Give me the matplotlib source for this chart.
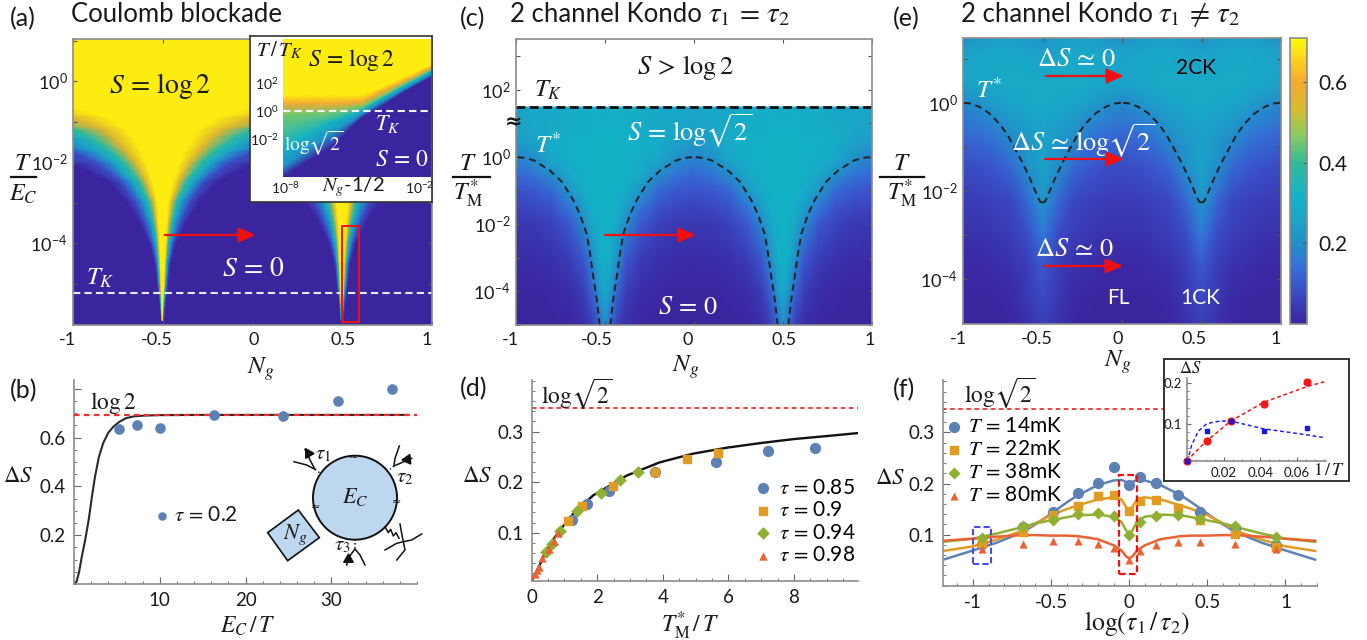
"""Entropy panels: Coulomb blockade and two channel Kondo maps with cuts below."""

import numpy as np
import matplotlib
matplotlib.use("Agg")
import matplotlib.pyplot as plt
from matplotlib.colors import LinearSegmentedColormap
from matplotlib.font_manager import FontProperties
from matplotlib.patches import Circle, Polygon, Rectangle
from matplotlib.ticker import FixedLocator, MultipleLocator
from matplotlib.transforms import ScaledTranslation

plt.rcParams["font.family"] = ["Lato", "DejaVu Sans"]
plt.rcParams["mathtext.fontset"] = "stix"
plt.rcParams["mathtext.rm"] = "Lato"
plt.rcParams["mathtext.it"] = "Lato:italic"
plt.rcParams["mathtext.bf"] = "Lato:bold"

W, H = 1367, 640

CMAP_VALUES = [0, 0.05, 0.1, 0.15, 0.2, 0.26, 0.32, 0.4, 0.47, 0.53, 0.6, 0.65, 0.71]
CMAP_COLORS = ["#3B259F", "#3A3DB8", "#3A58CF", "#3275D8", "#2190C8", "#1AA6C8", "#12B4C6",
               "#30BB9A", "#8CCC60", "#D4BC30", "#F6A830", "#FCCC20", "#FCFC08"]
S_MAX = 0.71

# (a) contours of S, distance from the dip at each temperature
A_LEVELS = [0.69, 0.55, 0.38, 0.25, 0.08, 0.0]
A_LOGT = [-5.9, -5.5, -5, -4.5, -4, -3.5, -3, -2.5, -2.05, -1.75, -1.4, -1.2, -0.9, -0.62, -0.5, 1.1]
A_DIST = [
    [0.002, 0.003, 0.004, 0.005, 0.006, 0.007],
    [0.004, 0.006, 0.008, 0.010, 0.013, 0.016],
    [0.008, 0.012, 0.016, 0.020, 0.026, 0.032],
    [0.012, 0.017, 0.022, 0.028, 0.036, 0.045],
    [0.016, 0.024, 0.032, 0.042, 0.060, 0.075],
    [0.022, 0.034, 0.050, 0.065, 0.100, 0.130],
    [0.030, 0.050, 0.075, 0.100, 0.150, 0.200],
    [0.055, 0.090, 0.130, 0.170, 0.230, 0.300],
    [0.090, 0.145, 0.210, 0.265, 0.360, 0.500],
    [0.120, 0.200, 0.285, 0.360, 0.500, 1.0],
    [0.168, 0.270, 0.400, 0.500, 1.0, 1.5],
    [0.200, 0.330, 0.500, 1.0, 1.5, 2.0],
    [0.300, 0.500, 1.0, 1.5, 2.0, 2.5],
    [0.500, 1.0, 1.5, 2.0, 2.5, 3.0],
    [1.0, 1.5, 2.0, 2.5, 3.0, 3.5],
    [3.0, 3.5, 4.0, 4.5, 5.0, 5.5],
]
A_TK = -5.23

# (a) inset, contours of S against log(Ng - 1/2)
INSET_LOGX = [-8.0, -7.0, -6.0, -4.8, -4.0, -3.0, -2.0]
INSET_LEVELS = [0.69, 0.69, 0.6, 0.45, 0.33, 0.2, 0.0, 0.0]
INSET_LOGT = [
    [5.2, 5.2, 5.2, 5.2, 5.2, 5.2, 5.2],
    [1.15, 1.15, 1.15, 1.15, 1.7, 2.5, 3.3],
    [0.55, 0.55, 0.55, 0.65, 1.4, 2.2, 3.1],
    [-0.3, -0.2, -0.1, 0.3, 1.0, 2.0, 2.9],
    [-2.55, -1.6, -0.75, 0.05, 0.9, 1.85, 2.8],
    [-4.0, -2.8, -1.6, -0.2, 0.65, 1.65, 2.6],
    [-4.7, -3.6, -2.55, -0.45, 0.35, 1.45, 2.4],
    [-4.7, -4.7, -4.7, -4.7, -4.7, -4.7, -4.7],
]

# (c) S table, rows in log T and columns in distance from the dips
C_DIST = [0, 0.03, 0.07, 0.12, 0.2, 0.3, 0.4, 0.5]
C_LOGT = [1.49, 0.9, 0.5, 0, -0.5, -1, -1.5, -2, -3, -4, -5.01]
C_S = [
    [0.28, 0.29, 0.30, 0.29, 0.29, 0.26, 0.27, 0.26],
    [0.30, 0.30, 0.30, 0.29, 0.29, 0.28, 0.26, 0.25],
    [0.31, 0.31, 0.31, 0.30, 0.30, 0.29, 0.25, 0.24],
    [0.31, 0.31, 0.31, 0.31, 0.30, 0.27, 0.21, 0.18],
    [0.31, 0.31, 0.31, 0.31, 0.28, 0.20, 0.15, 0.13],
    [0.31, 0.31, 0.31, 0.29, 0.22, 0.13, 0.10, 0.09],
    [0.31, 0.31, 0.30, 0.24, 0.15, 0.09, 0.07, 0.06],
    [0.31, 0.31, 0.27, 0.19, 0.10, 0.06, 0.04, 0.04],
    [0.30, 0.29, 0.20, 0.10, 0.05, 0.03, 0.02, 0.015],
    [0.27, 0.23, 0.12, 0.05, 0.02, 0.01, 0.005, 0.005],
    [0.20, 0.13, 0.05, 0.02, 0.005, 0, 0, 0],
]
C_TK = 1.49
C_TSTAR_DIST = [0.03, 0.045, 0.066, 0.085, 0.103, 0.14, 0.178, 0.24, 0.31, 0.40, 0.45, 0.5]
C_TSTAR_LOG = [-5.01, -4.3, -3.57, -2.85, -2.29, -1.72, -1.29, -0.75, -0.4, -0.1, -0.025, 0]

# (e) S table
E_DIST = [0, 0.05, 0.1, 0.2, 0.3, 0.4, 0.5]
E_LOGT = [1.48, 1.1, 0.44, 0, -0.7, -1.45, -2.2, -2.97, -3.7, -4.5, -5.03]
E_S = [
    [0.21, 0.22, 0.23, 0.24, 0.24, 0.22, 0.21],
    [0.25, 0.25, 0.26, 0.27, 0.27, 0.26, 0.25],
    [0.28, 0.28, 0.28, 0.28, 0.28, 0.26, 0.25],
    [0.28, 0.28, 0.27, 0.26, 0.24, 0.21, 0.19],
    [0.25, 0.24, 0.23, 0.20, 0.16, 0.14, 0.13],
    [0.25, 0.23, 0.20, 0.13, 0.10, 0.085, 0.08],
    [0.22, 0.18, 0.13, 0.07, 0.06, 0.05, 0.05],
    [0.16, 0.12, 0.08, 0.05, 0.04, 0.03, 0.03],
    [0.10, 0.08, 0.05, 0.03, 0.02, 0.01, 0.01],
    [0.07, 0.055, 0.04, 0.01, 0.005, 0, 0],
    [0.05, 0.04, 0.025, 0.005, 0, 0, 0],
]
E_TSTAR_DIST = [0, 0.015, 0.03, 0.084, 0.125, 0.168, 0.22, 0.273, 0.335, 0.40, 0.45, 0.5]
E_TSTAR_LOG = [-2.27, -2.25, -2.14, -1.68, -1.37, -1.08, -0.73, -0.47, -0.24, -0.09, -0.02, 0]

# (b)
B_X = [5.2, 7.3, 10.0, 16.3, 24.4, 30.8, 37.1]
B_Y = [0.634, 0.652, 0.638, 0.693, 0.689, 0.751, 0.80]
B_CURVE_X = [0.0, 0.3, 0.6, 0.9, 1.3, 1.7, 2.1, 2.45, 2.9, 3.4, 4.0, 4.6, 5.3, 6.1, 7.0, 8.1, 10, 15, 39]
B_CURVE_Y = [0.0, 0.01, 0.05, 0.11, 0.18, 0.26, 0.36, 0.44, 0.52, 0.577, 0.62, 0.645, 0.665, 0.68, 0.687, 0.69, 0.692, 0.693, 0.693]
LOG2 = 0.693

# (d)
D_TAU85_X = [1.22, 1.69, 2.35, 3.76, 5.63, 7.21, 8.63]
D_TAU85_Y = [0.126, 0.157, 0.183, 0.221, 0.240, 0.262, 0.267]
D_TAU90_X = [1.10, 1.54, 2.49, 3.75, 4.75, 5.69]
D_TAU90_Y = [0.124, 0.153, 0.192, 0.221, 0.245, 0.257]
D_TAU94_X = [0.44, 0.61, 0.86, 1.39, 2.10, 2.69, 3.23]
D_TAU94_Y = [0.062, 0.078, 0.103, 0.142, 0.178, 0.205, 0.220]
D_TAU98_X = [0.10, 0.15, 0.23, 0.32, 0.53, 0.68, 0.81]
D_TAU98_Y = [0.018, 0.026, 0.032, 0.049, 0.067, 0.084, 0.099]
D_CURVE_X = [0, 0.2, 0.4, 0.6, 0.86, 1.3, 1.88, 2.9, 3.9, 4.9, 5.94, 6.95, 7.97, 8.98, 9.95]
D_CURVE_Y = [0.005, 0.03, 0.058, 0.081, 0.105, 0.14, 0.174, 0.213, 0.239, 0.256, 0.268, 0.277, 0.285, 0.291, 0.297]
LOG_SQRT2 = 0.3466

# (f)
F_X = [-0.94, -0.68, -0.49, -0.33, -0.2, -0.1, 0, 0.07, 0.17, 0.31, 0.45, 0.68, 0.94]
F_14 = [0.082, 0.114, 0.144, 0.182, 0.201, 0.233, 0.197, 0.212, 0.201, 0.177, 0.144, 0.112, 0.080]
F_22 = [0.084, 0.105, 0.138, 0.156, 0.175, 0.178, 0.146, 0.165, 0.167, 0.153, 0.128, 0.101, 0.076]
F_38 = [0.094, 0.116, 0.128, 0.141, 0.142, 0.136, 0.100, 0.124, 0.137, 0.139, 0.131, 0.116, 0.095]
F_80 = [0.071, 0.081, 0.087, 0.087, 0.081, 0.073, 0.051, 0.067, 0.079, 0.086, 0.086, 0.081, 0.071]
F_CURVE_X = [-1.19, -1.0, -0.85, -0.68, -0.6, -0.5, -0.4, -0.33, -0.2, -0.1, -0.05, -0.02, 0]
F_CURVE_14 = [0.051, 0.069, 0.084, 0.105, 0.120, 0.141, 0.163, 0.177, 0.197, 0.206, 0.207, 0.203, 0.198]
F_CURVE_22 = [0.068, 0.077, 0.090, 0.108, 0.122, 0.138, 0.150, 0.157, 0.169, 0.173, 0.169, 0.154, 0.144]
F_CURVE_38 = [0.086, 0.092, 0.102, 0.115, 0.122, 0.128, 0.134, 0.138, 0.139, 0.135, 0.125, 0.108, 0.099]
F_CURVE_80 = [0.088, 0.092, 0.096, 0.099, 0.099, 0.098, 0.098, 0.097, 0.091, 0.079, 0.069, 0.0575, 0.053]

# (f) inset
FI_X = [0.0, 0.0108, 0.0239, 0.0418, 0.0658]
FI_RED = [0.008, 0.059, 0.107, 0.150, 0.202]
FI_BLUE = [0.010, 0.082, 0.107, 0.083, 0.089]
FI_RED_LINE_X = [0.0, 0.0033, 0.0108, 0.0239, 0.0418, 0.0658, 0.0755]
FI_RED_LINE_Y = [0.008, 0.026, 0.059, 0.107, 0.153, 0.192, 0.204]
FI_BLUE_LINE_X = [0.0, 0.0024, 0.0060, 0.0108, 0.0179, 0.0239, 0.0418, 0.0658, 0.0755]
FI_BLUE_LINE_Y = [0.008, 0.048, 0.082, 0.101, 0.107, 0.107, 0.088, 0.073, 0.066]

DEC_LABELS = {2: "$10^{2}$", 0: "$10^{0}$", -2: r"$10^{\mathrm{-}2}$", -4: r"$10^{\mathrm{-}4}$"}
NG_TICKS = [-1, -0.5, 0, 0.5, 1]
NG_LABELS = ["-1", "-0.5", "0", "0.5", "1"]

BLUE, ORANGE, GREEN, RED = "#5E81B5", "#E19C24", "#8FB032", "#EB6235"
GRAY = "#8C8C8C"
TEXT = "#1a1a1a"
FILL = "#BDD7EE"

cmap = LinearSegmentedColormap.from_list("entropy", [(v / S_MAX, c) for v, c in zip(CMAP_VALUES, CMAP_COLORS)])
DARK = cmap(0.0)

fig = plt.figure(figsize=(W / 100, H / 100), dpi=100)


def px_axes(left, top, right, bottom, **kw):
    return fig.add_axes([left / W, 1 - bottom / H, (right - left) / W, (bottom - top) / H], **kw)


def style_map(ax, ylabels, ylim, label_dx):
    ax.set_xlim(-1, 1)
    ax.set_ylim(*ylim)
    ax.set_xticks(NG_TICKS)
    ax.set_xticklabels(NG_LABELS)
    lo, hi = int(np.ceil(ylim[0])), int(np.floor(ylim[1]))
    ticks = list(range(lo, hi + 1))
    ax.yaxis.set_major_locator(FixedLocator(ticks))
    ax.set_yticklabels([DEC_LABELS.get(t, "") if t in ylabels else "" for t in ticks])
    for lb in ax.get_yticklabels():
        lb.set_math_fontfamily("custom")
    ax.tick_params(direction="in", top=True, right=True, length=3, width=0.8, color="#555555",
                   labelsize=13, labelcolor=TEXT, pad=4)
    ax.tick_params(axis="x", pad=5)
    # the x labels sit a few pixels left of their ticks in the figure
    for lb, dx in zip(ax.get_xticklabels(), label_dx):
        lb.set_transform(lb.get_transform() + ScaledTranslation(dx / 100, 0, fig.dpi_scale_trans))
    for s in ax.spines.values():
        s.set_color(GRAY)
        s.set_linewidth(1.2)


def style_cut(ax, xmajor, xminor, ymajor, yminor, size=13.5):
    ax.xaxis.set_major_locator(MultipleLocator(xmajor))
    ax.xaxis.set_minor_locator(MultipleLocator(xminor))
    ax.yaxis.set_major_locator(MultipleLocator(ymajor))
    ax.yaxis.set_minor_locator(MultipleLocator(yminor))
    ax.tick_params(which="major", direction="in", length=5, width=0.8, color="#666666", labelsize=size,
                   labelcolor=TEXT, pad=6)
    ax.tick_params(which="minor", direction="in", length=2.5, width=0.7, color="#777777")
    for s in ["top", "right"]:
        ax.spines[s].set_visible(False)
    for s in ["left", "bottom"]:
        ax.spines[s].set_color(GRAY)
        ax.spines[s].set_linewidth(1.2)


def ng_knots(dist):
    dist = list(dist)
    left = [-0.5 - d for d in dist[::-1]] + [-0.5 + d for d in dist[1:]]
    right = [0.5 - d for d in dist[:0:-1]] + [0.5 + d for d in dist]
    return np.array(left + right[1:])


def ng_table(table):
    rows = []
    for row in table:
        row = list(row)
        rows.append(row[::-1] + row[1:] + row[-2:0:-1] + row)
    return np.array(rows)


# ---------- (a)
ax_a = px_axes(73, 39, 432, 325)
ax_a.set_facecolor(DARK)
lev = np.array(A_LEVELS)
dist = np.array(A_DIST)
c_row = np.r_[lev[::-1], lev[0], lev[0], lev]
for dip, lo in [(-0.5, -1), (0.5, 0)]:
    xs = np.hstack([dip - dist[:, ::-1], np.full((len(A_LOGT), 2), dip), dip + dist])
    ys = np.tile(np.array(A_LOGT)[:, None], (1, xs.shape[1]))
    mesh = ax_a.pcolormesh(xs, ys, np.tile(c_row, (len(A_LOGT), 1)), shading="gouraud", cmap=cmap,
                           vmin=0, vmax=S_MAX)
    mesh.set_clip_path(Rectangle((lo, -6.02), 1, 7.06, transform=ax_a.transData))
ax_a.axhline(A_TK, color="#E8E8F4", ls=(0, (3.5, 2)), lw=1.5)
style_map(ax_a, [0, -2, -4], (-6.02, 1.04), [-6, -6, 1, 1, -5])

# inset of (a)
box_a = px_axes(250, 36, 432, 202)
box_a.set_xticks([])
box_a.set_yticks([])
for s in box_a.spines.values():
    s.set_color("#333333")
    s.set_linewidth(1.2)
box_a.set_zorder(3)
ins_a = px_axes(283, 39, 431, 177)
ins_a.set_zorder(4)
xs = np.tile(np.array(INSET_LOGX), (len(INSET_LEVELS), 1))
ins_a.pcolormesh(xs, np.array(INSET_LOGT), np.tile(np.array(INSET_LEVELS)[:, None], (1, len(INSET_LOGX))),
                 shading="gouraud", cmap=cmap, vmin=0, vmax=S_MAX)
ins_a.axhline(0, color="#F2F2F2", ls=(0, (3.5, 2)), lw=1.5)
ins_a.set_xlim(-8, -2)
ins_a.set_ylim(-4.69, 5.14)
ins_a.set_xticks([-7.88, -2.45])
ins_a.set_xticklabels([r"$10^{\mathrm{-}8}$", r"$10^{\mathrm{-}2}$"])
ins_a.set_yticks([2, 0, -2])
ins_a.set_yticklabels(["$10^{2}$", "$10^{0}$", r"$10^{\mathrm{-}2}$"])
for lb in ins_a.get_xticklabels() + ins_a.get_yticklabels():
    lb.set_math_fontfamily("custom")
ins_a.tick_params(length=0, labelsize=10, labelcolor=TEXT, pad=3)
ins_a.tick_params(axis="x", pad=2)
for s in ins_a.spines.values():
    s.set_visible(False)

# ---------- (c)
ax_c = px_axes(516, 39, 872, 325)
ax_c.pcolormesh(ng_knots(C_DIST), C_LOGT, ng_table(C_S), shading="gouraud", cmap=cmap, vmin=0, vmax=S_MAX)
ax_c.plot([-1, 1], [C_TK, C_TK], color="#111111", ls=(0, (3.2, 1.6)), lw=2)
for sign, dip in [(-1, -0.5), (1, -0.5), (-1, 0.5), (1, 0.5)]:
    ax_c.plot(dip + sign * np.array(C_TSTAR_DIST), C_TSTAR_LOG, color="#222222", ls=(0, (3.5, 2.4)), lw=1.4)
style_map(ax_c, [2, 0, -2, -4], (-5.01, 3.52), [-6, -8, -6, 1, -2])

# ---------- (e)
ax_e = px_axes(963, 38, 1281, 324)
ax_e.pcolormesh(ng_knots(E_DIST), E_LOGT, ng_table(E_S), shading="gouraud", cmap=cmap, vmin=0, vmax=S_MAX)
for sign, dip in [(-1, -0.5), (1, -0.5), (-1, 0.5), (1, 0.5)]:
    ax_e.plot(dip + sign * np.array(E_TSTAR_DIST), E_TSTAR_LOG, color="#222222", ls=(0, (3.5, 2.4)), lw=1.4)
style_map(ax_e, [0, -2, -4], (-5.03, 1.47), [-5, -6, -4, -7, -5])

cax = px_axes(1290, 38, 1307, 324)
sm = plt.cm.ScalarMappable(cmap=cmap, norm=plt.Normalize(0, S_MAX))
cb = fig.colorbar(sm, cax=cax, ticks=[0.2, 0.4, 0.6])
cb.ax.set_yticklabels(["0.2", "0.4", "0.6"])
cb.ax.tick_params(direction="in", length=3, width=0.8, color="#555555", labelsize=15, labelcolor=TEXT, pad=8)
cb.outline.set_edgecolor(GRAY)
cb.outline.set_linewidth(1.2)

# ---------- (b)
ax_b = px_axes(74, 380, 417, 584)
ax_b.axhline(LOG2, color="#F03030", ls=(0, (2.5, 2)), lw=1.6, zorder=3)
ax_b.plot(B_CURVE_X, B_CURVE_Y, color="#2a2a2a", lw=1.5, zorder=2)
ax_b.scatter(B_X, B_Y, s=44, color=BLUE, zorder=4, clip_on=False)
ax_b.set_xlim(0, 40)
ax_b.set_ylim(0, 0.836)
style_cut(ax_b, 10, 2, 0.2, 0.05)
ax_b.set_yticks([0.2, 0.4, 0.6, 0.8])
ax_b.set_yticklabels(["0.2", "0.4", "0.6", ""])
ax_b.set_xticks([10, 20, 30])

# ---------- (d)
ax_d = px_axes(531.7, 380, 858, 580.7)
ax_d.axhline(LOG_SQRT2, color="#F03030", ls=(0, (2.5, 2)), lw=1.3)
ax_d.plot(D_CURVE_X, D_CURVE_Y, color="#111111", lw=1.7, zorder=2)
ax_d.scatter(D_TAU85_X, D_TAU85_Y, s=50, marker="o", color=BLUE, zorder=3, label=r"$\tau\,=\,$0.85")
ax_d.scatter(D_TAU90_X, D_TAU90_Y, s=34, marker="s", color=ORANGE, zorder=4, label=r"$\tau\,=\,$0.9")
ax_d.scatter(D_TAU94_X, D_TAU94_Y, s=42, marker="D", color=GREEN, zorder=5, linewidths=0, label=r"$\tau\,=\,$0.94")
ax_d.scatter(D_TAU98_X, D_TAU98_Y, s=36, marker="^", color=RED, zorder=6, linewidths=0, label=r"$\tau\,=\,$0.98")
ax_d.set_xlim(0, 9.95)
ax_d.set_ylim(0.005, 0.402)
style_cut(ax_d, 2, 0.5, 0.1, 0.02)
ax_d.set_yticks([0.1, 0.2, 0.3])
ax_d.legend(loc="lower left", bbox_to_anchor=(0.678, 0.078), frameon=False, handlelength=1, handletextpad=0.25,
            labelspacing=0.12, borderpad=0, borderaxespad=0,
            prop=FontProperties(family="Lato", size=15, math_fontfamily="stix"))

# ---------- (f)
ax_f = px_axes(943.3, 380, 1316.7, 585.7)
ax_f.plot([-1.2, 0.22], [LOG_SQRT2, LOG_SQRT2], color="#F03030", ls=(0, (2.5, 2)), lw=1.3)
half_x = np.array(F_CURVE_X)
curve_x = np.r_[half_x, -half_x[-2::-1]]
for vals, col in [(F_CURVE_14, BLUE), (F_CURVE_22, ORANGE), (F_CURVE_38, GREEN), (F_CURVE_80, RED)]:
    vals = np.array(vals)
    ax_f.plot(curve_x, np.r_[vals, vals[-2::-1]], color=col, lw=1.8, zorder=2)
ax_f.scatter(F_X, F_14, s=50, marker="o", color=BLUE, zorder=3, label="$T\\,=\\,$14mK")
ax_f.scatter(F_X, F_22, s=34, marker="s", color=ORANGE, zorder=4, label="$T\\,=\\,$22mK")
ax_f.scatter(F_X, F_38, s=38, marker="D", color=GREEN, zorder=5, linewidths=0, label="$T\\,=\\,$38mK")
ax_f.scatter(F_X, F_80, s=34, marker="^", color=RED, zorder=6, linewidths=0, label="$T\\,=\\,$80mK")
ax_f.add_patch(Rectangle((-0.998, 0.0425), 0.113, 0.0725, fill=False, ec="#4A4AF0", ls=(0, (3, 1.5)), lw=1.5, zorder=7))
ax_f.add_patch(Rectangle((-0.067, 0.0225), 0.115, 0.1935, fill=False, ec="#F01010", ls=(0, (3, 1.5)), lw=1.6, zorder=7))
ax_f.set_xlim(-1.19, 1.2)
ax_f.set_ylim(0, 0.4026)
style_cut(ax_f, 0.5, 0.1, 0.1, 0.02)
ax_f.set_xticks(NG_TICKS)
ax_f.set_xticklabels(NG_LABELS)
ax_f.set_yticks([0.1, 0.2, 0.3])
ax_f.legend(loc="upper left", bbox_to_anchor=(0.0, 0.825), frameon=False, handlelength=1, handletextpad=0.2,
            labelspacing=0.15, borderpad=0, borderaxespad=0,
            prop=FontProperties(family="Lato", size=15, math_fontfamily="stix"))

# inset of (f)
box_f = px_axes(1164, 359, 1349, 481)
box_f.set_xticks([])
box_f.set_yticks([])
box_f.set_zorder(3)
for s in box_f.spines.values():
    s.set_color("#333333")
    s.set_linewidth(1.4)
ins_f = px_axes(1187.3, 378.3, 1326, 461.3)
ins_f.set_zorder(4)
ins_f.plot(FI_RED_LINE_X, FI_RED_LINE_Y, color="#F01818", ls=(0, (2.5, 1.8)), lw=1.1)
ins_f.plot(FI_BLUE_LINE_X, FI_BLUE_LINE_Y, color="#2424EE", ls=(0, (2.5, 1.8)), lw=1.1)
ins_f.scatter(FI_X, FI_RED, s=24, color="#F01818", zorder=3, clip_on=False)
ins_f.scatter(FI_X, FI_BLUE, s=12, marker="s", color="#1818DD", zorder=4, clip_on=False)
ins_f.set_xlim(0, 0.076)
ins_f.set_ylim(0.0082, 0.212)
style_cut(ins_f, 0.02, 0.005, 0.1, 0.02, size=9.5)
ins_f.tick_params(which="major", length=3, pad=4)
ins_f.tick_params(which="minor", length=1.5)
ins_f.set_xticks([0.02, 0.04, 0.06])
ins_f.set_yticks([0.1, 0.2])
ins_f.set_xticklabels(["0.02", "0.04", "0.06"])
ins_f.set_yticklabels(["0.1", "0.2"])
ins_f.patch.set_alpha(0)

# ---------- overlay for labels and the device sketch, in pixels
ov = px_axes(0, 0, W, H)
ov.set_xlim(0, W)
ov.set_ylim(H, 0)
ov.axis("off")
ov.set_zorder(10)
ov.patch.set_alpha(0)


def put(x, y, s, color=TEXT, size=15, ha="center", va="center", **kw):
    ov.text(x, y, s, color=color, fontsize=size, ha=ha, va=va, **kw)


for x, y, s in [(10, 19, "(a)"), (460, 19, "(c)"), (893, 19, "(e)"), (10, 391, "(b)"), (460, 389, "(d)"), (893, 390, "(f)")]:
    put(x, y, s, size=18, ha="left")
put(71, 14, "Coulomb blockade", size=18.5, ha="left")
put(510, 14, "2 channel Kondo", size=18.5, ha="left")
put(708, 15, r"$\tau_1\,=\,\tau_2$", size=21, ha="left")
put(961, 14, "2 channel Kondo", size=18.5, ha="left")
put(1158, 15, r"$\tau_1\,\neq\,\tau_2$", size=21, ha="left")

for x0, x1, xc, top, bottom in [(11, 36, 23, "$T$", "$E_C$"), (453, 490, 468, "$T$", r"$T_{\mathrm{M}}^{*}$"),
                                (880, 924, 902, "$T$", r"$T_{\mathrm{M}}^{*}$")]:
    ov.plot([x0, x1], [176.5, 176.5], color="#111111", lw=1.6)
    put(xc, 163, top, size=18)
    put(xc, 194, bottom, size=17.5)

put(261, 369, "$N_g$", size=18)
put(686, 367, "$N_g$", size=18)
put(1118, 362, "$N_g$", size=18)
put(248, 626, "$E_C\\,/\\,T$", size=17)
put(690, 626, r"$T_{\mathrm{M}}^{*}\,/\,T$", size=17)
put(1137, 623, r"$\log(\tau_1\,/\,\tau_2)$", size=18.5)
put(18, 476, r"$\Delta S$", size=16.5)
put(477, 475, r"$\Delta S$", size=16.5)
put(890, 477, r"$\Delta S$", size=16.5)

put(160, 86, r"$S\,=\,\log2$", size=20)
put(253, 268, r"$S\,=\,0$", "white", 20)
put(100, 278, "$T_K$", "white", 18)
put(279, 50, "$T\\,/\\,T_K$", size=15)
put(351, 60, r"$S\,=\,\log2$", size=17)
put(388, 124, "$T_K$", "white", 16)
put(314, 143, r"$\mathrm{log}\sqrt{2}$", "white", 14)
put(402, 159, r"$S\,=\,0$", "white", 17)
put(353, 187, "$N_g$-1/2", size=14.5)

put(685, 68, r"$S\,>\,\log2$", size=19)
put(548, 90, "$T_K$", size=18)
put(548, 144, "$T^{*}$", "white", 18)
put(690, 131, r"$S\,=\,\mathrm{log}\sqrt{2}$", "white", 19)
put(688, 307, r"$S\,=\,0$", "white", 19)
put(514, 122, "\u2248", size=15, family=["DejaVu Sans"], fontweight="bold")

put(1076, 59, r"$\Delta S\,\simeq\,0$", "white", 19)
put(1196, 68, "2CK", "black", 15)
put(989, 89, "$T^{*}$", "white", 18)
put(1083, 141, r"$\Delta S\,\simeq\,\mathrm{log}\sqrt{2}$", "white", 19)
put(1074, 249, r"$\Delta S\,\simeq\,0$", "white", 19)
put(1118, 298, "FL", "white", 15)
put(1200, 298, "1CK", "white", 15)

put(113, 403, r"$\log2$", size=17)
put(577, 394, r"$\mathrm{log}\sqrt{2}$", size=17)
put(1000, 393, r"$\mathrm{log}\sqrt{2}$", size=17)
put(206, 515, r"$\tau\,=\,$0.2", size=15)
ov.scatter([162], [516], s=26, color=BLUE)

put(1190, 368, r"$\Delta S$", size=12)
put(1329, 470, "$1\\,/\\,T$", size=13)

for x0, x1, y in [(165, 256, 235), (605, 696, 235), (1046, 1124, 76), (1045, 1124, 159), (1044, 1123, 266)]:
    ov.annotate("", xy=(x1, y), xytext=(x0, y),
                arrowprops=dict(arrowstyle="-|>,head_length=0.75,head_width=0.32", color="#F01010", lw=1.6,
                                shrinkA=0, shrinkB=0, mutation_scale=14))
ov.add_patch(Rectangle((342, 226), 17, 96, fill=False, ec="#F01010", lw=1.4))


# device sketch in (b), positions taken from the 3x crop
def sk(pts):
    pts = np.array(pts, dtype=float)
    return pts[:, 0] / 3, 370 + pts[:, 1] / 3


ov.add_patch(Circle((355, 497.7), 42, fc=FILL, ec="#111111", lw=1.4))
ov.add_patch(Polygon(np.c_[sk([(895, 420), (958, 503), (863, 572), (803, 488)])], fc=FILL, ec="#111111", lw=1.2))
leads = [
    [(882, 275), (920, 285), (945, 298), (930, 270), (915, 238)],
    [(1198, 228), (1185, 265), (1182, 288), (1205, 278), (1235, 265)],
    [(1040, 585), (1048, 560), (1065, 537), (1080, 555), (1095, 585)],
    [(1155, 540), (1190, 520), (1210, 515), (1235, 510), (1265, 492)],
    [(1200, 462), (1205, 490), (1210, 515), (1215, 540), (1190, 570)],
    [(1155, 470), (1165, 488), (1172, 478), (1180, 498), (1188, 488), (1197, 505)],
]
for pts in leads:
    ov.plot(*sk(pts), color="#111111", lw=1.1)
for pts in [[(945, 298), (958, 308)], [(1182, 288), (1170, 298)], [(1065, 507), (1065, 537)]]:
    ov.plot(*sk(pts), color="#111111", lw=1.1, ls=":")
for (x, y), angle in [((925, 250), 150), ((1222, 266), 95), ((1045, 567), 0)]:
    ox, oy = sk([(x, y)])
    ov.plot(ox, oy, marker=(3, 0, angle), ms=8, color="#111111", ls="none")
for x, y in [(1062, 262), (1190, 397), (945, 412)]:
    ox, oy = sk([(x, y)])
    ov.text(ox[0], oy[0], "\u2248", fontsize=8, ha="center", va="center", family=["DejaVu Sans"], color="#111111")
put(355, 497, "$E_C$", size=16)
put(295, 535, "$N_g$", size=16)
put(323, 454, r"$\tau_1$", size=15)
put(405, 477, r"$\tau_2$", size=15)
put(342, 545, r"$\tau_3$", size=15)

fig.savefig("out.png", dpi=100)
